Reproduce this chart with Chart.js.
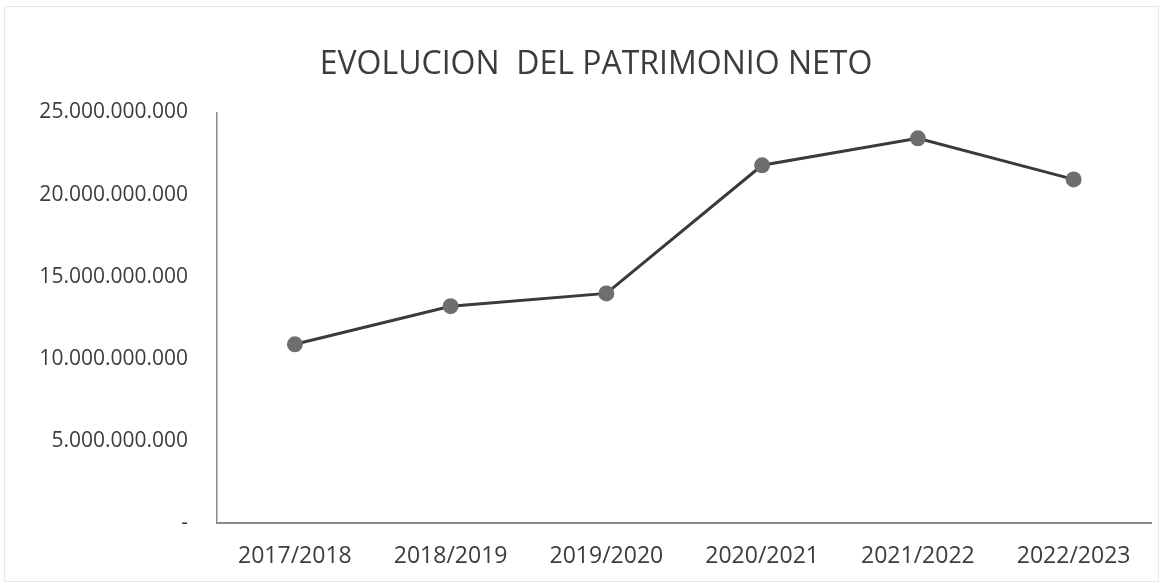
<!DOCTYPE html>
<html>
<head>
<meta charset="utf-8">
<script src="https://cdn.jsdelivr.net/npm/chart.js@4"></script>
<style>
  html, body { margin: 0; padding: 0; background: #fff; }
  #wrap { position: relative; width: 1161px; height: 586px; }
  #frame { position: absolute; left: 4px; top: 6px; right: 2px; bottom: 4px; border: 1px solid #e8e8e8; pointer-events: none; }
</style>
</head>
<body>
<div id="wrap">
  <canvas id="chart" width="1161" height="586"></canvas>
  <div id="frame"></div>
</div>
<script>
// periods on the x axis
const periods = ['2017/2018', '2018/2019', '2019/2020', '2020/2021', '2021/2022', '2022/2023'];
// net worth (patrimonio neto)
const patrimonio = [10.88e9, 13.2e9, 13.98e9, 21.78e9, 23.42e9, 20.92e9];
// y axis ticks
const yTicks = [0, 5e9, 10e9, 15e9, 20e9, 25e9];

const fontFamily = '"Open Sans", "Liberation Sans", sans-serif';

function formatMiles(v) {
    if (v === 0) return '-';
    return Math.round(v).toString().replace(/\B(?=(\d{3})+(?!\d))/g, '.');
}

new Chart(document.getElementById('chart'), {
    type: 'line',
    data: {
        labels: periods,
        datasets: [{
            label: 'Patrimonio Neto',
            data: patrimonio,
            borderColor: '#3a3a3a',
            borderWidth: 3,
            pointBackgroundColor: '#6e6e6e',
            pointBorderColor: '#6e6e6e',
            pointRadius: 6.5,
            tension: 0
        }]
    },
    options: {
        responsive: false,
        animation: false,
        layout: { padding: { left: 40, right: 9, top: 0, bottom: 10 } },
        plugins: {
            legend: { display: false },
            tooltip: { enabled: false },
            title: {
                display: true,
                text: 'EVOLUCION  DEL PATRIMONIO NETO',
                color: '#3c3c3c',
                font: { family: fontFamily, size: 32, weight: 'normal' },
                padding: { top: 46, bottom: 28 }
            }
        },
        scales: {
            x: {
                offset: true,
                grid: { display: false, drawTicks: false },
                border: { display: true, color: '#8a8a8a', width: 2 },
                ticks: {
                    color: '#3c3c3c',
                    padding: 20,
                    maxRotation: 0,
                    font: { family: fontFamily, size: 23 }
                },
                afterFit: (scale) => { scale.height = 53; }
            },
            y: {
                min: 0,
                max: 25e9,
                grid: { display: false, drawTicks: false },
                border: { display: true, color: '#8a8a8a', width: 1.5 },
                afterBuildTicks: (scale) => { scale.ticks = yTicks.map(v => ({ value: v })); },
                ticks: {
                    color: '#3c3c3c',
                    padding: 29,
                    font: { family: fontFamily, size: 21 },
                    callback: (v) => formatMiles(v)
                },
                afterFit: (scale) => { scale.width = 177; }
            }
        }
    }
});
</script>
</body>
</html>
